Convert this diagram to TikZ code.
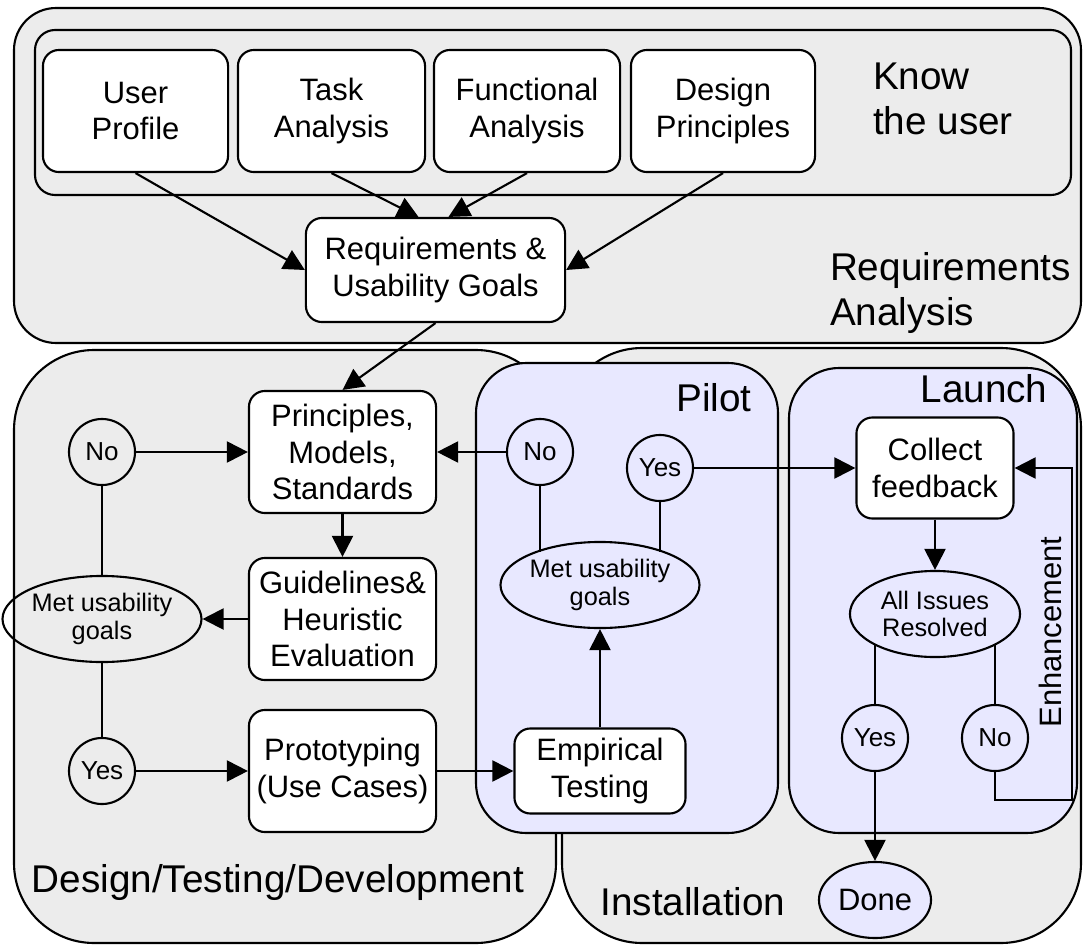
\documentclass[tikz,border=0pt]{standalone}
\usepackage{fontspec}
\setmainfont{Liberation Sans}
\usepackage{tikz}
\usetikzlibrary{arrows.meta,shapes.geometric}
\definecolor{regiongray}{RGB}{236,236,236}
\definecolor{phaselav}{RGB}{232,232,255}

\begin{document}
\begin{tikzpicture}[x=0.01cm,y=-0.01cm,line width=0.6pt]

\tikzstyle{box}=[draw,fill=white,rounded corners=0.16cm,align=center,inner sep=0pt,font=\fontsize{8.8}{10.4}\selectfont]
\tikzstyle{choice}=[draw,circle,minimum size=0.66cm,inner sep=0pt,font=\fontsize{7.4}{8}\selectfont]
\tikzstyle{check}=[draw,ellipse,minimum width=1.7cm,minimum height=0.86cm,inner sep=0pt,align=center,font=\fontsize{7.2}{7.8}\selectfont]
\tikzstyle{phase}=[inner sep=0pt,font=\fontsize{11}{12.8}\selectfont]
\tikzstyle{arr}=[-{Triangle[length=6pt,width=6pt]}]

\useasboundingbox (0,0) rectangle (1084,945);

\draw[fill=regiongray,rounded corners=0.42cm] (14,8) rectangle (1081,343);
\draw[fill=regiongray,rounded corners=0.2cm] (35,30) rectangle (1071,195);
\draw[fill=regiongray,rounded corners=0.8cm] (14,350) rectangle (556,943);
\draw[fill=regiongray,rounded corners=0.8cm] (562,348) rectangle (1081,943);
\draw[fill=phaselav,rounded corners=0.5cm] (476,363) rectangle (778,833);
\draw[fill=phaselav,rounded corners=0.5cm] (789,368) rectangle (1077,833);

\node[phase,align=left,anchor=west] (know) at (872,99) {Know\\the user};
\node[phase,align=left,anchor=west] (reqa) at (829,293) {Requirements\\Analysis};
\node[phase,anchor=base] (pilot) at (714,411) {Pilot};
\node[phase,anchor=base] (launch) at (984,402) {Launch};
\node[phase,anchor=base] (dtd) at (278,892) {Design/Testing/Development};
\node[phase,anchor=base] (inst) at (693,915) {Installation};

\node[box,minimum width=1.85cm,minimum height=1.22cm] (prof) at (135.5,111) {User\\Profile};
\node[box,minimum width=1.87cm,minimum height=1.22cm] (task) at (331.5,111) {Task\\Analysis};
\node[box,minimum width=1.86cm,minimum height=1.22cm] (func) at (527,111) {Functional\\Analysis};
\node[box,minimum width=1.84cm,minimum height=1.22cm] (desp) at (723,111) {Design\\Principles};
\node[box,minimum width=2.59cm,minimum height=1.04cm] (req) at (435.5,270) {Requirements \&\\Usability Goals};

\node[box,minimum width=1.87cm,minimum height=1.22cm] (prin) at (342.5,452) {Principles,\\Models,\\Standards};
\node[box,minimum width=1.87cm,minimum height=1.22cm] (guide) at (342.5,619) {Guidelines\&\\Heuristic\\Evaluation};
\node[box,minimum width=1.87cm,minimum height=1.22cm] (proto) at (342.5,771) {Prototyping\\(Use Cases)};
\node[box,minimum width=1.71cm,minimum height=0.85cm] (emp) at (600,771) {Empirical\\Testing};
\node[box,minimum width=1.57cm,minimum height=1.01cm] (coll) at (935,468) {Collect\\feedback};

\node[choice] (no1) at (102,452) {No};
\node[check] (met1) at (102,619) {Met usability\\goals};
\node[choice] (yes1) at (102,771) {Yes};
\node[choice] (no2) at (540,452) {No};
\node[choice] (yes2) at (660,468) {Yes};
\node[check] (met2) at (600,585) {Met usability\\goals};
\node[check] (res) at (935,614) {All Issues\\Resolved};
\node[choice] (yes3) at (875,738) {Yes};
\node[choice] (no3) at (995,738) {No};
\node[draw,ellipse,fill=phaselav,minimum width=1.12cm,minimum height=0.76cm,inner sep=0pt,font=\fontsize{8.8}{10}\selectfont] (done) at (875,900) {Done};
\node[rotate=90,inner sep=0pt,font=\fontsize{8.8}{10}\selectfont] (enh) at (1050,632) {Enhancement};
\node[shape=coordinate] (loop) at (1072,800) {};

\draw[arr] (prof.south) -- (req.west);
\draw[arr] (task.south) -- ([xshift=-0.17cm]req.north);
\draw[arr] (func.south) -- ([xshift=0.13cm]req.north);
\draw[arr] (desp.south) -- (req.east);
\draw[arr] (req.south) -- (prin.north);

\draw[arr] (no1.east) -- (prin.west);
\draw[arr] (prin.south) -- (guide.north);
\draw[arr] (guide.west) -- (met1.east);
\draw (no1.south) -- (met1.north);
\draw (met1.south) -- (yes1.north);
\draw[arr] (yes1.east) -- (proto.west);
\draw[arr] (proto.east) -- (emp.west);

\draw[arr] (emp.north) -- (met2.south);
\draw (no2.south) -- (no2.south |- met2.153);
\draw (yes2.south) -- (yes2.south |- met2.27);
\draw[arr] (no2.west) -- (prin.east);
\draw[arr] (yes2.east) -- (coll.west);

\draw[arr] (coll.south) -- (res.north);
\draw (yes3.north) -- (yes3.north |- res.207);
\draw (no3.north) -- (no3.north |- res.333);
\draw[arr] (yes3.south) -- (done.north);
\draw[arr] (no3.south) |- (loop) |- (coll.east);

\end{tikzpicture}
\end{document}
